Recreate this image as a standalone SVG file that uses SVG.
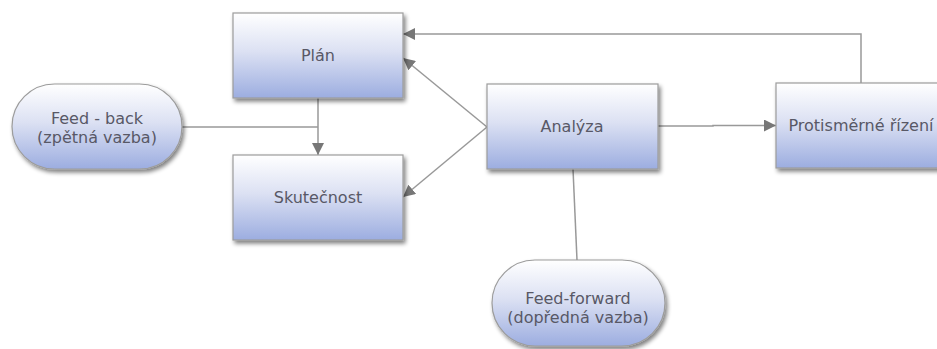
<svg xmlns="http://www.w3.org/2000/svg" width="937" height="349" viewBox="0 0 937 349">
  <defs>
    <linearGradient id="nodeFill" x1="0" y1="0" x2="0" y2="1">
      <stop offset="0" stop-color="#ffffff"/>
      <stop offset="0.45" stop-color="#dce1f3"/>
      <stop offset="1" stop-color="#9cade0"/>
    </linearGradient>
    <filter id="shadow" x="-20%" y="-20%" width="140%" height="150%">
      <feGaussianBlur in="SourceAlpha" stdDeviation="2"/>
      <feOffset dx="2" dy="3" result="off"/>
      <feComponentTransfer><feFuncA type="linear" slope="0.5"/></feComponentTransfer>
      <feMerge><feMergeNode/><feMergeNode in="SourceGraphic"/></feMerge>
    </filter>
    <marker id="arrow" viewBox="0 0 12 12" refX="12" refY="6" markerWidth="12" markerHeight="12" markerUnits="userSpaceOnUse" orient="auto">
      <path d="M0,0 L12,6 L0,12 Z" fill="#777"/>
    </marker>
  </defs>
  <style>
    .node { fill: url(#nodeFill); stroke: #9c9c9c; stroke-width: 1.2; filter: url(#shadow); }
    .label { font-family: "DejaVu Sans", Verdana, sans-serif; font-size: 16px; fill: #585866; text-anchor: middle; }
    .conn { fill: none; stroke: #999; stroke-width: 1.5; }
  </style>

  <rect width="937" height="349" fill="#ffffff"/>

  <!-- connectors -->
  <g id="connectors">
    <path class="conn" d="M318,98 L318,155" marker-end="url(#arrow)"/>
    <path class="conn" d="M182,127 L318,127"/>
    <path class="conn" d="M487,127 L403,58" marker-end="url(#arrow)"/>
    <path class="conn" d="M487,127 L403,197" marker-end="url(#arrow)"/>
    <path class="conn" d="M658,126 L713,126 L713,125.5 L776,125.5" marker-end="url(#arrow)"/>
    <path class="conn" d="M861,83 L861,34 L403,34" marker-end="url(#arrow)"/>
    <path class="conn" d="M573,169 L577,260"/>
  </g>

  <!-- nodes -->
  <g id="plan">
    <rect class="node" x="233" y="13" width="170" height="85"/>
    <text class="label" x="318" y="61">Plán</text>
  </g>
  <g id="skutecnost">
    <rect class="node" x="233" y="155" width="170" height="85"/>
    <text class="label" x="318" y="203">Skutečnost</text>
  </g>
  <g id="analyza">
    <rect class="node" x="487" y="84" width="171" height="85"/>
    <text class="label" x="572" y="132">Analýza</text>
  </g>
  <g id="protismerne">
    <rect class="node" x="776" y="83" width="170" height="85"/>
    <text class="label" x="861" y="131">Protisměrné řízení</text>
  </g>
  <g id="feedback">
    <rect class="node" x="12" y="84" width="170" height="85" rx="42.5" ry="42.5"/>
    <text class="label" x="97" y="124">Feed - back</text>
    <text class="label" x="97" y="143">(zpětná vazba)</text>
  </g>
  <g id="feedforward">
    <rect class="node" x="492" y="260" width="173" height="86" rx="43" ry="43"/>
    <text class="label" x="578" y="304">Feed-forward</text>
    <text class="label" x="578" y="323">(dopředná vazba)</text>
  </g>
</svg>
